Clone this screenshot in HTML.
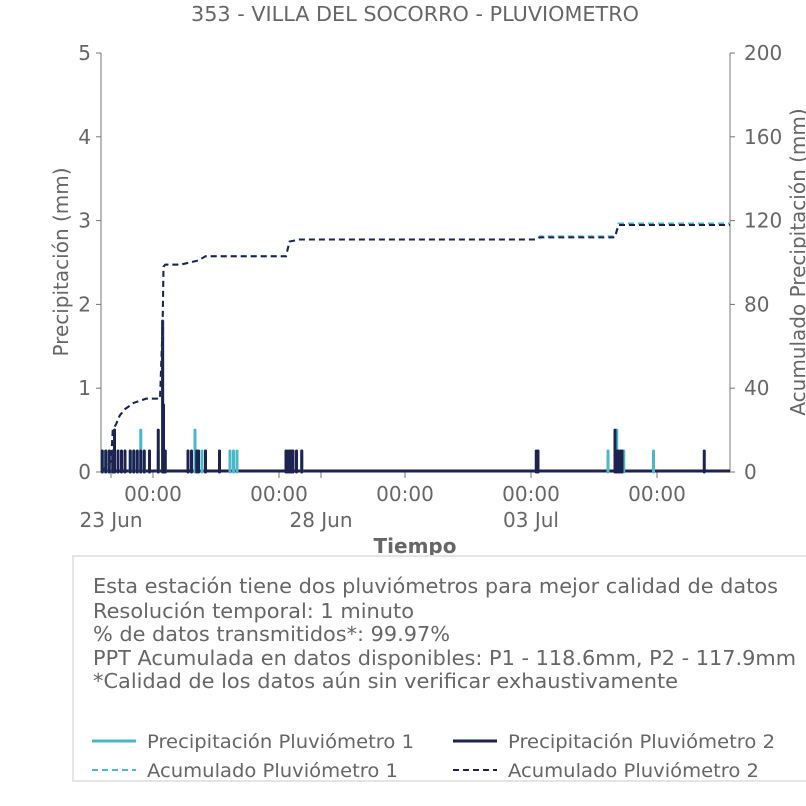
<!DOCTYPE html>
<html><head><meta charset="utf-8"><style>
html,body{margin:0;padding:0;background:#fff;width:806px;height:806px;overflow:hidden}
svg{font-family:"DejaVu Sans","Liberation Sans",sans-serif}
</style></head><body>
<svg id="chart" width="806" height="806" viewBox="0 0 806 806" xmlns="http://www.w3.org/2000/svg">
<text x="415" y="21" text-anchor="middle" font-size="20" fill="#666" textLength="448" lengthAdjust="spacingAndGlyphs">353 - VILLA DEL SOCORRO - PLUVIOMETRO</text>
<g id="axes"></g>
<g id="marks"></g>
<text x="415" y="553" text-anchor="middle" font-size="20" font-weight="bold" fill="#666">Tiempo</text>
<text transform="translate(68,262) rotate(-90)" text-anchor="middle" font-size="20" fill="#666">Precipitación (mm)</text>
<text transform="translate(805,262) rotate(-90)" text-anchor="middle" font-size="20" fill="#666">Acumulado Precipitación (mm)</text>
<g>
<rect x="73" y="556" width="740" height="225" fill="#fff" stroke="#e5e5e5" stroke-width="2"/>
<g font-size="20" fill="#666">
<text x="93" y="593" textLength="685" lengthAdjust="spacingAndGlyphs">Esta estación tiene dos pluviómetros para mejor calidad de datos</text>
<text x="93" y="618" textLength="321" lengthAdjust="spacingAndGlyphs">Resolución temporal: 1 minuto</text>
<text x="93" y="641" textLength="357" lengthAdjust="spacingAndGlyphs">% de datos transmitidos*: 99.97%</text>
<text x="93" y="665" textLength="703" lengthAdjust="spacingAndGlyphs">PPT Acumulada en datos disponibles: P1 - 118.6mm, P2 - 117.9mm</text>
<text x="93" y="688" textLength="585" lengthAdjust="spacingAndGlyphs">*Calidad de los datos aún sin verificar exhaustivamente</text>
</g>
<g><line x1="92" y1="741" x2="136" y2="741" stroke="#4bb8c8" stroke-width="3"/><text x="147" y="748" font-size="19" fill="#666" textLength="267" lengthAdjust="spacingAndGlyphs">Precipitación Pluviómetro 1</text></g>
<g><line x1="453" y1="741" x2="497" y2="741" stroke="#1e2250" stroke-width="3"/><text x="508" y="748" font-size="19" fill="#666" textLength="267" lengthAdjust="spacingAndGlyphs">Precipitación Pluviómetro 2</text></g>
<g><line x1="92" y1="770" x2="136" y2="770" stroke="#4bb8c8" stroke-width="2" stroke-dasharray="6,4"/><text x="147" y="777" font-size="19" fill="#666" textLength="251" lengthAdjust="spacingAndGlyphs">Acumulado Pluviómetro 1</text></g>
<g><line x1="453" y1="770" x2="497" y2="770" stroke="#1e2250" stroke-width="2" stroke-dasharray="6,4"/><text x="508" y="777" font-size="19" fill="#666" textLength="251" lengthAdjust="spacingAndGlyphs">Acumulado Pluviómetro 2</text></g>
</g>
</svg>
<script>
// time in hours since 23 Jun 00:00
const p1Times=[-5,-3,-1,1,2,4,6,8,11,13,15,17,19,22,27,29.5,30,31,44,46,48,50,52,54,62,68,70,72,104,109,244,284,289,293,310];
const p1Vals=[0.25,0.25,0.25,0.25,0.5,0.25,0.25,0.25,0.25,0.25,0.25,0.5,0.25,0.25,0.25,1.8,0.8,0.25,0.25,0.25,0.5,0.25,0.25,0.25,0.25,0.25,0.25,0.25,0.25,0.25,0.25,0.25,0.5,0.25,0.25];
const p2Times=[-5,-3,-1,1,2,4,6,8,11,13,15,17,19,22,27,29.5,30,31,44,46,49,50,54,62,100,101,102,103,104,106,109,243,244,288,289,290,291,292,339];
const p2Vals=[0.25,0.25,0.25,0.25,0.5,0.25,0.25,0.25,0.25,0.25,0.25,0.25,0.25,0.25,0.5,1.8,0.8,0.25,0.25,0.25,0.25,0.25,0.25,0.25,0.25,0.25,0.25,0.25,0.25,0.25,0.25,0.25,0.25,0.5,0.25,0.25,0.25,0.25,0.25];
const acumTimes=[-5.7,0,1,3,5,8,13,20,28,29.5,30,31,35,40,50,54,62,100,102,108,243,245,288,290,355];
const acum1Vals=[0,5,20,23,27,30,33,35,35,70,98,99,99,99,101,103,103,103,110,111,111,112.5,112.5,118.6,118.6];
const acum2Vals=[0,5,20,23,27,30,33,35,35,70,98,99,99,99,101,103,103,103,110,111,111,112,112,117.9,117.9];
const leftTicks=[0,1,2,3,4,5];
const rightTicks=[0,40,80,120,160,200];
const xTickHours=[0,24,96,120,168,240,312];
const xTickLabels=["","00:00","00:00","","00:00","00:00","00:00"];
const dateLabelHours=[0,120,240];
const dateLabels=["23 Jun","28 Jun","03 Jul"];

const X0=101,X1=730,Y0=472,Y1=53;
const x=h=>111+h*42/24;
const yL=v=>Y0-(v/5)*(Y0-Y1);
const yR=v=>Y0-(v/200)*(Y0-Y1);
const NS="http://www.w3.org/2000/svg";
function mk(tag,attrs,parent){const e=document.createElementNS(NS,tag);for(const k in attrs)e.setAttribute(k,attrs[k]);parent.appendChild(e);return e;}
const axes=document.getElementById('axes'),marks=document.getElementById('marks');
const ax=mk('path',{d:`M${X0},${Y1}V${Y0}H${X1}V${Y1}`,fill:'none',stroke:'#777','stroke-width':1},axes);


leftTicks.forEach(v=>{
  const t=mk('text',{x:X0-10,y:yL(v)+7,'text-anchor':'end','font-size':20,fill:'#666'},axes);t.textContent=v;
  
  
  mk('line',{x1:X0-5,x2:X0,y1:yL(v),y2:yL(v),stroke:'#777'},axes);
});
rightTicks.forEach(v=>{
  const t=mk('text',{x:X1+14,y:yR(v)+7,'font-size':20,fill:'#666'},axes);t.textContent=v;
  
  
  mk('line',{x1:X1,x2:X1+5,y1:yR(v),y2:yR(v),stroke:'#777'},axes);
});
xTickHours.forEach((h,i)=>{
  mk('line',{x1:x(h),x2:x(h),y1:Y0,y2:Y0+6,stroke:'#777'},axes);
  if(xTickLabels[i]){const t=mk('text',{x:x(h),y:Y0+29,'text-anchor':'middle','font-size':20,fill:'#666'},axes);t.textContent=xTickLabels[i];
  
  }
});
dateLabelHours.forEach((h,i)=>{
  const t=mk('text',{x:x(h),y:Y0+55,'text-anchor':'middle','font-size':20,fill:'#666'},axes);t.textContent=dateLabels[i];
  
  
});
function bars(times,vals,color,name){
  times.forEach((h,i)=>{
    const b=mk('line',{x1:x(h),x2:x(h),y1:Y0,y2:yL(vals[i]),stroke:color,'stroke-width':3,'stroke-linecap':'round'},marks);
    
    
  });
}
// baseline lines
const base=mk('line',{x1:X0,x2:X1,y1:Y0-1,y2:Y0-1,stroke:'#1e2250','stroke-width':3},marks);


bars(p1Times,p1Vals,'#4bb8c8','bar-p1');
bars(p2Times,p2Vals,'#1e2250','bar-p2');
function line(vals,color,name){
  const d=acumTimes.map((h,i)=>(i?'L':'M')+Math.max(X0,Math.min(X1,x(h)))+','+yR(vals[i])).join('');
  const p=mk('path',{d,fill:'none',stroke:color,'stroke-width':2,'stroke-dasharray':'6,4'},marks);
  
  
}
line(acum1Vals,'#4bb8c8','acum-line-p1');
line(acum2Vals,'#1e2250','acum-line-p2');
</script>
</body></html>
